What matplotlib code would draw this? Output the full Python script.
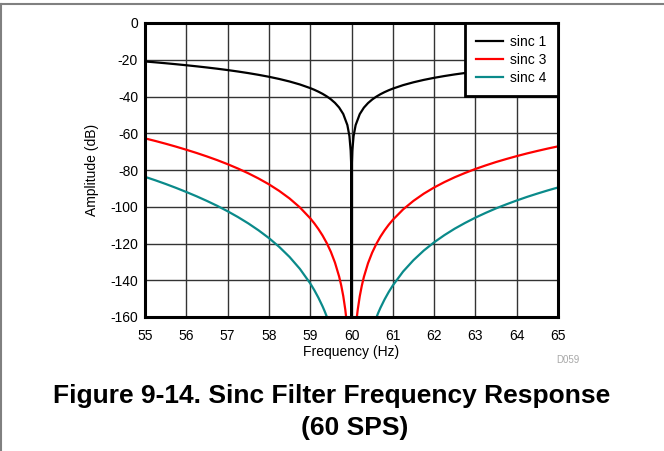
import numpy as np
import matplotlib.pyplot as plt
from matplotlib.lines import Line2D

plt.rcParams['font.family'] = ['Liberation Sans', 'DejaVu Sans']
plt.rcParams['axes.unicode_minus'] = False

# frequency (Hz) / amplitude (dB)

freq_sinc1 = [55, 55.25, 55.5, 55.75, 56, 56.25, 56.5, 56.75, 57, 57.25, 57.5,
              57.75, 58, 58.25, 58.5, 58.75, 59, 59.1, 59.2, 59.3, 59.4, 59.5,
              59.6, 59.7, 59.8, 59.9, 59.95, 59.98, 59.99, 59.995, 59.999, 60,
              60.001, 60.005, 60.01, 60.02, 60.05, 60.1, 60.2, 60.3, 60.4, 60.5,
              60.6, 60.7, 60.8, 60.9, 61, 61.25, 61.5, 61.75, 62, 62.25, 62.5,
              62.75, 63, 63.25, 63.5, 63.75, 64, 64.25, 64.5, 64.75, 65]
amp_sinc1 = [-20.93, -21.40, -21.90, -22.43, -22.99, -23.58, -24.21, -24.88,
             -25.61, -26.40, -27.26, -28.21, -29.26, -30.46, -31.83, -33.45,
             -35.42, -36.35, -37.39, -38.56, -39.91, -41.51, -43.47, -45.98,
             -49.51, -55.55, -61.58, -69.54, -75.56, -81.58, -95.56, -160,
             -95.56, -81.59, -75.57, -69.55, -61.59, -55.58, -49.57, -46.06,
             -43.58, -41.66, -40.09, -38.76, -37.62, -36.61, -35.71, -33.81,
             -32.27, -30.96, -29.84, -28.86, -27.98, -27.20, -26.48, -25.83,
             -25.22, -24.67, -24.15, -23.66, -23.21, -22.78, -22.38]

# sinc 3 and sinc 4 drop below the axis around 60 Hz -> nan splits the branches
freq_sinc3 = [55, 55.25, 55.5, 55.75, 56, 56.25, 56.5, 56.75, 57, 57.25, 57.5,
              57.75, 58, 58.25, 58.5, 58.75, 59, 59.1, 59.2, 59.3, 59.4, 59.5,
              59.6, 59.7, 59.75, 59.8, 59.85, 59.87, np.nan,
              60.13, 60.15, 60.2, 60.25, 60.3, 60.4, 60.5, 60.6, 60.7, 60.8,
              60.9, 61, 61.25, 61.5, 61.75, 62, 62.25, 62.5, 62.75, 63, 63.25,
              63.5, 63.75, 64, 64.25, 64.5, 64.75, 65]
amp_sinc3 = [-62.79, -64.20, -65.70, -67.29, -68.97, -70.74, -72.63, -74.64,
             -76.83, -79.20, -81.78, -84.63, -87.78, -91.38, -95.49, -100.35,
             -106.26, -109.05, -112.17, -115.68, -119.73, -124.53, -130.41,
             -137.94, -142.70, -148.53, -156.06, -160, np.nan,
             -160, -156.19, -148.71, -142.92, -138.18, -130.74, -124.98,
             -120.27, -116.28, -112.86, -109.83, -107.13, -101.43, -96.81,
             -92.88, -89.52, -86.58, -83.94, -81.60, -79.44, -77.49, -75.66,
             -74.01, -72.45, -70.98, -69.63, -68.34, -67.14]

freq_sinc4 = [55, 55.25, 55.5, 55.75, 56, 56.25, 56.5, 56.75, 57, 57.25, 57.5,
              57.75, 58, 58.25, 58.5, 58.75, 59, 59.1, 59.2, 59.3, 59.35,
              59.405, np.nan,
              60.607, 60.65, 60.7, 60.8, 60.9, 61, 61.25, 61.5, 61.75, 62,
              62.25, 62.5, 62.75, 63, 63.25, 63.5, 63.75, 64, 64.25, 64.5,
              64.75, 65]
amp_sinc4 = [-83.72, -85.60, -87.60, -89.72, -91.96, -94.32, -96.84, -99.52,
             -102.44, -105.60, -109.04, -112.84, -117.04, -121.84, -127.32,
             -133.80, -141.68, -145.40, -149.56, -154.24, -156.84, -160, np.nan,
             -160, -157.60, -155.04, -150.48, -146.44, -142.84, -135.24,
             -129.08, -123.84, -119.36, -115.44, -111.92, -108.80, -105.92,
             -103.32, -100.88, -98.68, -96.60, -94.64, -92.84, -91.12, -89.52]

x_ticks = list(range(55, 66))
y_ticks = list(range(-160, 1, 20))

fig = plt.figure(figsize=(6.64, 4.51), dpi=100)
ax = fig.add_axes([145 / 664, 1 - 317 / 451, 413 / 664, 294 / 451])

ax.plot(freq_sinc1, amp_sinc1, color='black', lw=1.6, label='sinc 1')
ax.plot(freq_sinc3, amp_sinc3, color='#ff0000', lw=1.6, label='sinc 3')
ax.plot(freq_sinc4, amp_sinc4, color='#0a8a8a', lw=1.6, label='sinc 4')

ax.set_xlim(55, 65)
ax.set_ylim(-160, 0)
ax.set_xticks(x_ticks)
ax.set_yticks(y_ticks)
ax.grid(True, color='#333333', lw=1.0)
ax.set_axisbelow(True)
ax.tick_params(length=0, labelsize=10)
ax.tick_params(axis='x', pad=9)
ax.tick_params(axis='y', pad=5)

for s in ax.spines.values():
    s.set_linewidth(2.2)
    s.set_color('black')

ax.set_xlabel('Frequency (Hz)', fontsize=10, labelpad=1)
ax.set_ylabel('Amplitude (dB)', fontsize=10, labelpad=8)

leg = ax.legend(loc='upper right', borderaxespad=0, fancybox=False,
                fontsize=10, handlelength=1.9, handletextpad=0.5,
                labelspacing=0.28, borderpad=0.85, framealpha=1)
leg.get_frame().set_edgecolor('black')
leg.get_frame().set_linewidth(2.0)

fig.text(568 / 664, 1 - 360 / 451, 'D059', fontsize=7, color='#a8a8a8',
         ha='center', va='center')

fig.text(332 / 664, 1 - 396 / 451, 'Figure 9-14. Sinc Filter Frequency Response',
         fontsize=19, fontweight='bold', ha='center', va='center')
fig.text(355 / 664, 1 - 428 / 451, '(60 SPS)',
         fontsize=19, fontweight='bold', ha='center', va='center')

# page frame lines (top and left)
fig.add_artist(Line2D([0, 1], [1 - 4 / 451, 1 - 4 / 451], color='#808080', lw=1.5,
                      transform=fig.transFigure))
fig.add_artist(Line2D([1 / 664, 1 / 664], [0, 1 - 4 / 451], color='#808080', lw=1.5,
                      transform=fig.transFigure))

fig.savefig('out.png', dpi=100)
